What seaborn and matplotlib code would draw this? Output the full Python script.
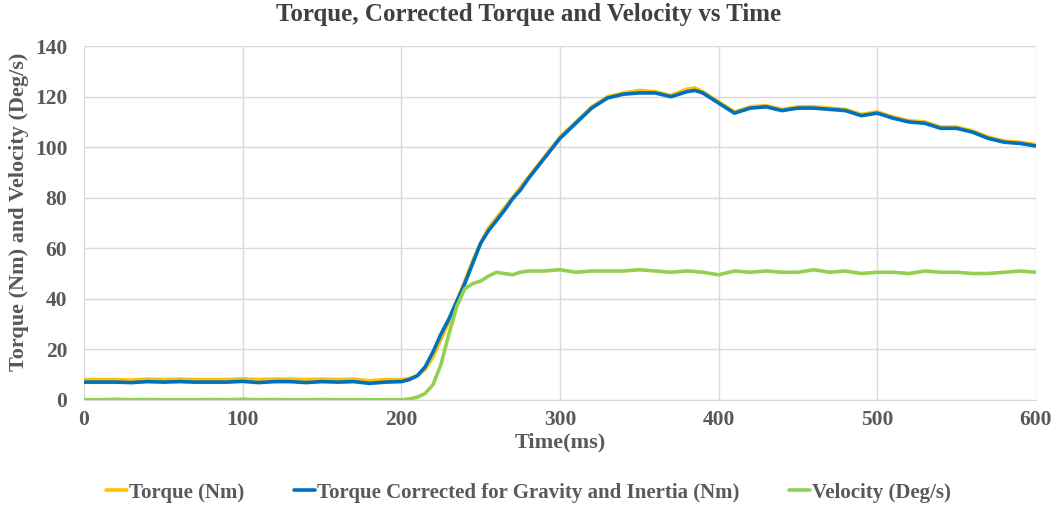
import pandas as pd
import seaborn as sns
from matplotlib import pyplot as plt

# time in ms
time = [0, 10, 20, 30, 40, 50, 60, 70, 80, 90, 100, 110, 120, 130, 140, 150, 160, 170, 180, 190, 200,
        205, 210, 215, 220, 225, 230, 235, 240, 245, 250, 255, 260, 265, 270, 275, 280, 290, 300,
        310, 320, 330, 340, 350, 360, 370, 380, 385, 390, 400, 410, 420, 430, 440, 450, 460, 470,
        480, 490, 500, 510, 520, 530, 540, 550, 560, 570, 580, 590, 600]

torque = [8, 8, 8, 7.8, 8.2, 8, 8.2, 8, 8, 8, 8.3, 8, 8.2, 8.2, 8, 8.2, 8, 8.2, 7.5, 8, 8,
          8.5, 9.5, 12, 17, 24, 31, 39, 47, 55, 62, 68, 72, 76, 80, 84, 88, 96, 104,
          110, 116, 120, 121.5, 122.5, 122, 120.5, 123, 123.5, 122, 118, 114, 116, 116.5, 115, 116, 116, 115.5,
          115, 113, 114, 112, 110.5, 110, 108, 108, 106.5, 104, 102.5, 102, 101]

torque_corr = [7, 7, 7, 6.8, 7.2, 7, 7.2, 7, 7, 7, 7.3, 6.8, 7.2, 7.2, 6.8, 7.2, 7, 7.2, 6.5, 7, 7.2,
               8, 9.5, 13, 19, 26, 32, 39, 46, 54, 62, 67, 71, 75, 79.5, 83, 87.5, 95.5, 103.5,
               109.5, 115.5, 119.5, 121, 121.5, 121.5, 120, 122, 122.5, 121.5, 117.5, 113.5, 115.5, 116, 114.5, 115.5, 115.5, 115,
               114.5, 112.5, 113.5, 111.5, 110, 109.5, 107.5, 107.5, 106, 103.5, 102, 101.5, 100.5]

velocity = [0, 0, 0.2, 0, 0.1, 0, 0, 0, 0.1, 0, 0.2, 0, 0.1, 0, 0, 0.1, 0, 0, 0, 0, 0,
            0.3, 1, 2.5, 6, 14, 26, 37, 44, 46, 47, 49, 50.5, 50, 49.5, 50.5, 51, 51, 51.5,
            50.5, 51, 51, 51, 51.5, 51, 50.5, 51, 50.8, 50.5, 49.5, 51, 50.5, 51, 50.5, 50.5, 51.5, 50.5,
            51, 50, 50.5, 50.5, 50, 51, 50.5, 50.5, 50, 50, 50.5, 51, 50.5]

labels = ["Torque (Nm)", "Torque Corrected for Gravity and Inertia (Nm)", "Velocity (Deg/s)"]
colors = ["#FFC000", "#0070C0", "#92D050"]

df = pd.DataFrame({"time": time, labels[0]: torque, labels[1]: torque_corr, labels[2]: velocity})
long_df = df.melt(id_vars="time", var_name="series", value_name="value")

sns.set_style("whitegrid")
plt.rcParams["font.family"] = ["Liberation Serif", "DejaVu Serif"]
plt.rcParams["font.weight"] = "bold"

fig, ax = plt.subplots(figsize=(10.57, 5.08), dpi=100)
fig.subplots_adjust(left=0.0795, right=0.980, top=0.909, bottom=0.213)

sns.lineplot(data=long_df, x="time", y="value", hue="series", hue_order=labels,
             palette=colors, linewidth=2.6, ax=ax)

ax.set_xlim(0, 600)
ax.set_ylim(0, 140)
ax.set_xticks(range(0, 601, 100))
ax.set_yticks(range(0, 141, 20))
ax.grid(True, color="#d9d9d9", linewidth=1)
for side in ["top", "right", "left"]:
    ax.spines[side].set_visible(False)
ax.spines["bottom"].set_color("#d9d9d9")
ax.tick_params(axis="both", labelsize=15.5, colors="#595959", length=0)
ax.tick_params(axis="x", pad=7)
ax.tick_params(axis="y", pad=12)
for lab in ax.get_xticklabels() + ax.get_yticklabels():
    lab.set_fontweight("bold")

fig.suptitle("Torque, Corrected Torque and Velocity vs Time", x=0.5, y=0.972, va="center",
             fontsize=18, fontweight="bold", color="#404040")
ax.set_xlabel("Time(ms)", fontsize=16, fontweight="bold", color="#595959", labelpad=2)
ax.set_ylabel("Torque (Nm) and Velocity (Deg/s)", fontsize=16, fontweight="bold", color="#595959")
ax.yaxis.set_label_coords(-0.058, 0.531)

handles, _ = ax.get_legend_handles_labels()
ax.get_legend().remove()
fig.legend(handles, labels, loc="center", bbox_to_anchor=(0.5, 0.03), ncol=3, frameon=False,
           handlelength=1.0, handletextpad=0.1, columnspacing=2.4,
           prop={"weight": "bold", "size": 15})
for t in fig.legends[0].get_texts():
    t.set_color("#595959")

plt.savefig("out.png", dpi=100)
